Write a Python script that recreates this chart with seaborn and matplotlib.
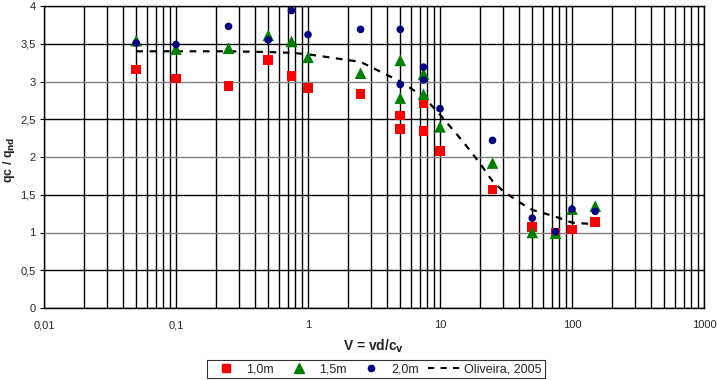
import numpy as np
import pandas as pd
import matplotlib
matplotlib.use("Agg")
import matplotlib.pyplot as plt
from matplotlib.lines import Line2D
from matplotlib.ticker import FixedLocator, FixedFormatter, LogLocator, NullFormatter
import seaborn as sns

# ---- data ----
x_10 = [0.05, 0.1, 0.25, 0.5, 0.75, 1, 2.5, 5, 5, 7.5, 7.5, 10, 25, 50, 75, 100, 150]
y_10 = [3.16, 3.04, 2.94, 3.28, 3.07, 2.91, 2.83, 2.55, 2.37, 2.72, 2.34, 2.08, 1.57, 1.07, 1.00, 1.04, 1.135]

x_15 = [0.05, 0.1, 0.25, 0.5, 0.75, 1, 2.5, 5, 5, 7.5, 7.5, 10, 25, 50, 75, 100, 150]
y_15 = [3.54, 3.43, 3.44, 3.61, 3.53, 3.32, 3.11, 3.28, 2.78, 3.10, 2.83, 2.40, 1.92, 1.00, 0.99, 1.31, 1.35]

x_20 = [0.05, 0.1, 0.25, 0.5, 0.75, 1, 2.5, 5, 5, 7.5, 7.5, 10, 25, 50, 75, 100, 150]
y_20 = [3.51, 3.49, 3.73, 3.55, 3.94, 3.62, 3.69, 3.69, 2.96, 3.19, 3.02, 2.64, 2.22, 1.19, 1.01, 1.31, 1.28]

x_oliv = [0.05, 0.1, 0.25, 0.5, 0.75, 1, 2.5, 5, 7.5, 10, 15, 20, 25, 30, 40, 50, 75, 100, 150]
y_oliv = [3.40, 3.40, 3.40, 3.39, 3.38, 3.36, 3.26, 3.00, 2.80, 2.56, 2.20, 1.92, 1.68, 1.55, 1.40, 1.30, 1.21, 1.13, 1.11]

series_labels = ["1,0m", "1,5m", "2,0m", "Oliveira, 2005"]
x_ticks = [0.01, 0.1, 1, 10, 100, 1000]
x_ticklabels = ["0,01", "0,1", "1", "10", "100", "1000"]
y_ticks = [0, 0.5, 1, 1.5, 2, 2.5, 3, 3.5, 4]
y_ticklabels = ["0", "0,5", "1", "1,5", "2", "2,5", "3", "3,5", "4"]

sns.set_style("white")
plt.rcParams["font.family"] = ["Liberation Sans", "DejaVu Sans"]

fig = plt.figure(figsize=(7.17, 3.80), dpi=100)
ax = fig.add_axes([44/717, 1-308/380, (704-44)/717, (308-6)/380])

ax.set_xscale("log")
ax.set_xlim(0.01, 1000)
ax.set_ylim(0, 4)

# grid lines
for yv in y_ticks:
    if abs(yv - round(yv)) < 1e-9 and yv not in (0, 4):
        ax.axhline(yv, color="#808080", lw=1.0, zorder=1)
    else:
        ax.axhline(yv, color="black", lw=1.0, zorder=1)
ax.xaxis.set_minor_locator(LogLocator(base=10, subs=np.arange(2, 10)))
ax.xaxis.set_minor_formatter(NullFormatter())
ax.grid(True, axis="x", which="both", color="black", lw=1.0, zorder=1)
ax.set_axisbelow(True)

sns.lineplot(x=x_oliv, y=y_oliv, ax=ax, color="black", lw=1.6,
             linestyle=(0, (3, 3)), zorder=3, sort=False)
sns.scatterplot(x=x_10, y=y_10, ax=ax, marker="s", color="#FF0000", s=50,
                edgecolor="none", zorder=4)
sns.scatterplot(x=x_15, y=y_15, ax=ax, marker="^", color="#008000", s=70,
                edgecolor="none", zorder=5)
sns.scatterplot(x=x_20, y=y_20, ax=ax, marker="o", color="#000080", s=30,
                edgecolor="none", zorder=6)

ax.xaxis.set_major_locator(FixedLocator(x_ticks))
ax.xaxis.set_major_formatter(FixedFormatter(x_ticklabels))
ax.set_yticks(y_ticks)
ax.set_yticklabels(y_ticklabels)
ax.tick_params(axis="both", which="major", labelsize=8, length=3, color="black",
               direction="out", left=True, bottom=False, pad=3)
ax.tick_params(axis="x", which="minor", bottom=False)
ax.tick_params(axis="x", pad=6)

for sp in ax.spines.values():
    sp.set_color("black")
    sp.set_linewidth(1.0)

ax.set_xlabel(r"V = vd/c$_\mathbf{v}$", fontsize=10, fontweight="bold")
ax.xaxis.set_label_coords(0.5, -0.098)
ax.set_ylabel(r"qc / q$_\mathbf{nd}$", fontsize=9, fontweight="bold")
ax.yaxis.set_label_coords(-0.041, 0.49)

handles = [
    Line2D([], [], marker="s", color="#FF0000", lw=0, markersize=5.5),
    Line2D([], [], marker="^", color="#008000", lw=0, markersize=6.5),
    Line2D([], [], marker="o", color="#000080", lw=0, markersize=4.5),
    Line2D([], [], color="black", lw=1.5, linestyle=(0, (3, 3))),
]
leg = fig.legend(handles, series_labels, loc="center", bbox_to_anchor=(0.524, 0.028),
                 ncol=4, fontsize=9, frameon=True, fancybox=False, borderpad=0.25,
                 handlelength=2.6, columnspacing=0.7, handletextpad=0.3,
                 borderaxespad=0)
leg.get_frame().set_edgecolor("black")
leg.get_frame().set_linewidth(0.8)

fig.savefig("out.png", dpi=100)
